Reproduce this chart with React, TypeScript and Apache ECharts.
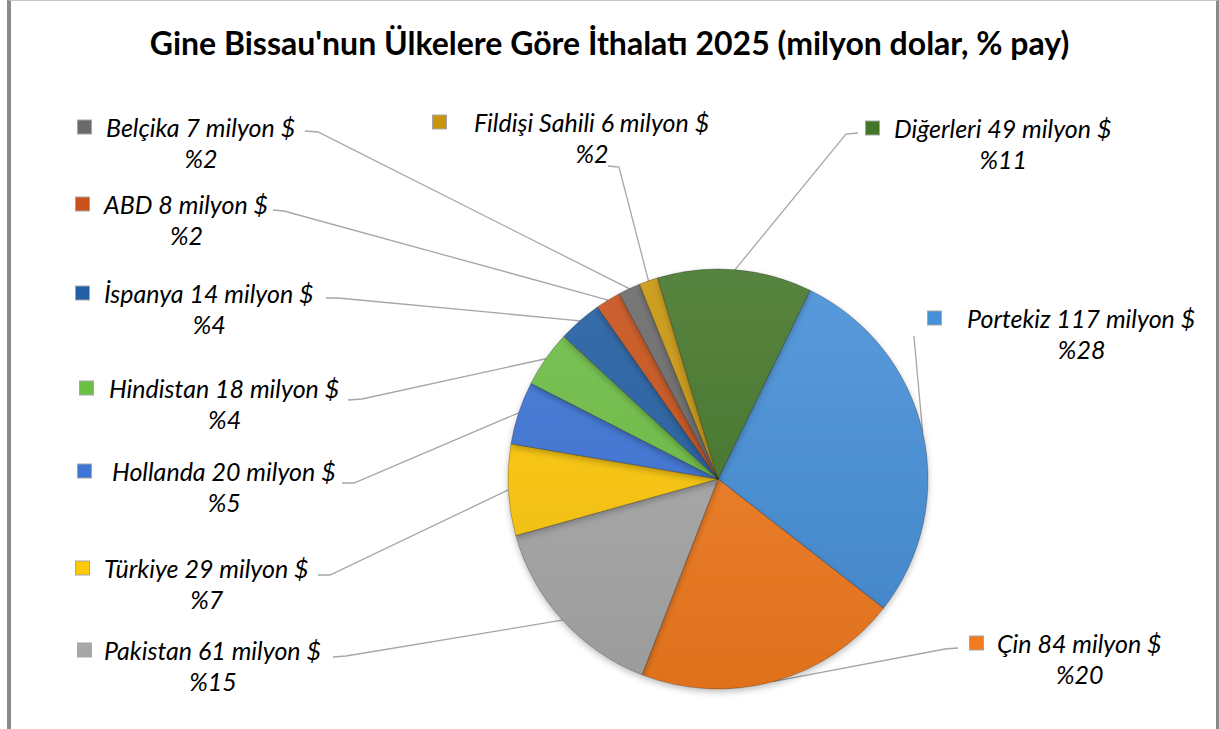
import React, { useEffect, useRef } from "react";
import * as echarts from "echarts";

const TITLE = "Gine Bissau'nun Ülkelere Göre İthalatı 2025 (milyon dolar, % pay)";
const COUNTRIES = ["Portekiz", "Çin", "Pakistan", "Türkiye", "Hollanda", "Hindistan", "İspanya", "ABD", "Belçika", "Fildişi Sahili", "Diğerleri"];
const VALUES = [117, 84, 61, 29, 20, 18, 14, 8, 7, 6, 49];
const SHARES = ["%28", "%20", "%15", "%7", "%5", "%4", "%4", "%2", "%2", "%2", "%11"];
const COLORS = ["#4690D8", "#F27B20", "#A8A8A8", "#FFC90A", "#3D74D6", "#6DBE45", "#235FA3", "#C9521A", "#6A6A6A", "#C8960E", "#44762A"];

// label placement (marker x, text x, text centre y, line attach point, elbow point)
const LABEL_LAYOUT = [
  { mx: 928, tx: 968, ty: 318, ax: 914, ay: 336, ex: 914, ey: 337 },
  { mx: 970, tx: 998, ty: 643, ax: 958, ay: 648, ex: 945, ey: 649 },
  { mx: 78, tx: 105, ty: 650, ax: 333, ay: 657, ex: 346, ey: 656 },
  { mx: 76, tx: 105, ty: 568, ax: 318, ay: 575, ex: 330, ey: 575 },
  { mx: 78, tx: 113, ty: 471, ax: 342, ay: 483, ex: 354, ey: 483 },
  { mx: 80, tx: 110, ty: 388, ax: 348, ay: 400, ex: 362, ey: 399 },
  { mx: 76, tx: 105, ty: 293, ax: 326, ay: 298, ex: 338, ey: 298 },
  { mx: 76, tx: 105, ty: 204, ax: 273, ay: 210, ex: 284, ey: 211 },
  { mx: 78, tx: 107, ty: 127, ax: 305, ay: 131, ex: 318, ey: 132 },
  { mx: 433, tx: 475, ty: 122, ax: 608, ay: 166, ex: 619, ey: 167 },
  { mx: 866, tx: 895, ty: 128, ax: 858, ay: 133, ex: 846, ey: 134 },
];

const FONT = "Lato, 'Open Sans', sans-serif";

function shade(hex: string, f: number): string {
  const n = parseInt(hex.slice(1), 16);
  const ch = [(n >> 16) & 255, (n >> 8) & 255, n & 255].map((c) =>
    Math.max(0, Math.min(255, Math.round(f >= 0 ? c + (255 - c) * f : c * (1 + f))))
  );
  return "#" + ch.map((c) => c.toString(16).padStart(2, "0")).join("");
}

export default function App() {
  const ref = useRef<HTMLDivElement>(null);

  useEffect(() => {
    if (!ref.current) return;
    const chart = echarts.init(ref.current, undefined, { renderer: "svg" });

    const data = COUNTRIES.map((name, i) => {
      const L = LABEL_LAYOUT[i];
      const c = COLORS[i];
      const textStyle = {
        fontFamily: FONT,
        fontSize: 25,
        fontStyle: "italic",
        color: "#000",
        lineHeight: 31,
      };
      return {
        name,
        value: VALUES[i],
        itemStyle: {
          color: {
            type: "linear",
            x: 0,
            y: 269,
            x2: 0,
            y2: 689,
            global: true,
            colorStops: [
              { offset: 0, color: shade(c, 0.1) },
              { offset: 1, color: shade(c, -0.08) },
            ],
          },
        },
        label: {
          formatter: `{m|}{t|${name} ${VALUES[i]} milyon $}\n{p|${SHARES[i]}}`,
          rich: {
            m: {
              width: 13,
              height: 13,
              backgroundColor: c,
              borderColor: "rgba(0,0,0,0.35)",
              borderWidth: 1,
              align: "left",
            },
            t: { ...textStyle, align: "left", padding: [0, 0, 0, L.tx - L.mx - 14] },
            p: { ...textStyle, align: "center", padding: [0, 0, 0, L.tx - L.mx] },
          },
        },
      };
    });

    chart.setOption({
      animation: false,
      backgroundColor: "transparent",
      title: {
        text: TITLE,
        left: "center",
        top: 21,
        padding: [5, 0, 5, 7],
        textStyle: {
          fontFamily: FONT,
          fontWeight: "bold",
          fontSize: 32,
          color: "#000",
        },
      },
      series: [
        {
          type: "pie",
          center: [718, 479],
          radius: 210,
          startAngle: 64,
          clockwise: true,
          avoidLabelOverlap: false,
          itemStyle: {
            borderColor: "rgba(0,0,0,0.25)",
            borderWidth: 1,
            shadowBlur: 6,
            shadowOffsetY: 3,
            shadowColor: "rgba(0,0,0,0.25)",
          },
          label: { show: true, position: "outside" },
          labelLine: {
            show: true,
            length: 10,
            length2: 10,
            lineStyle: { color: "#A6A6A6", width: 1.3 },
          },
          emphasis: { disabled: true },
          labelLayout: (params: any) => {
            const L = LABEL_LAYOUT[params.dataIndex];
            const p0 = params.labelLinePoints ? params.labelLinePoints[0] : null;
            return {
              x: L.mx,
              y: L.ty - 15.5,
              align: "left",
              verticalAlign: "top",
              labelLinePoints: p0
                ? [p0, [L.ex, L.ey], [L.ax, L.ay]]
                : undefined,
            };
          },
          data,
        },
      ],
    });

    return () => chart.dispose();
  }, []);

  return (
    <>
      <div
        style={{
          position: "absolute",
          left: 7,
          top: 0,
          width: 1212,
          height: 729,
          boxSizing: "border-box",
          borderLeft: "4px solid #8a8a8a",
          borderRight: "3px solid #8a8a8a",
          borderTop: "1px solid #c4c4c4",
          background: "#fff",
        }}
      />
      <div
        ref={ref}
        style={{ position: "absolute", left: 0, top: 0, width: 1219, height: 729 }}
      />
    </>
  );
}
